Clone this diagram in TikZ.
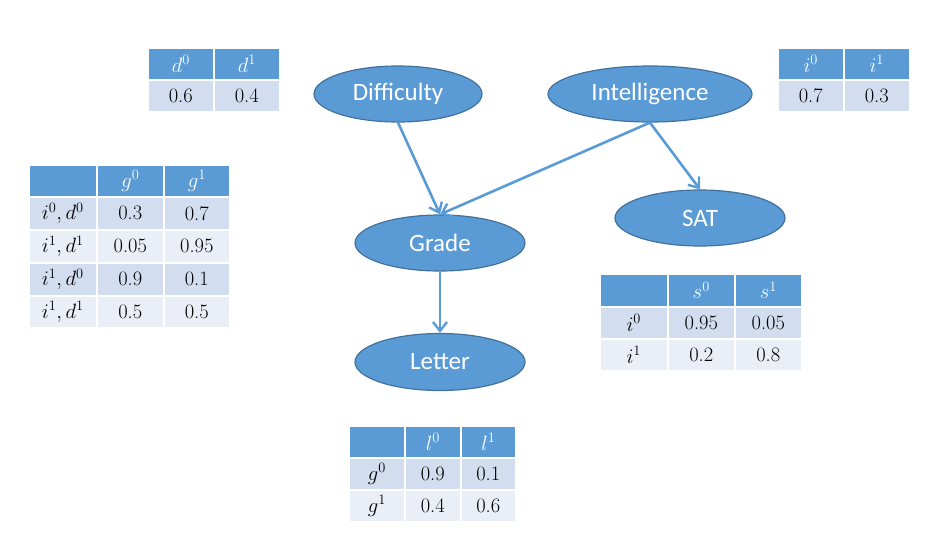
\documentclass[tikz,border=0pt]{standalone}
\usepackage{fontspec}
\newfontfamily\calibri{Carlito}
\usetikzlibrary{shapes.geometric,arrows.meta}
\definecolor{hdblue}{HTML}{5B9BD5}
\definecolor{edgeblue}{HTML}{41719C}
\definecolor{rowdk}{HTML}{D2DEEF}
\definecolor{rowlt}{HTML}{EAEFF7}
\newcommand\tc[7]{\node[cell,#1,minimum width=#5pt,minimum height=#6pt] (#2) at (#3,#4) {#7};}
\tikzset{
  cell/.style={draw=white, line width=1.6pt, inner sep=0pt, anchor=north west, font=\fontsize{20.5}{22}\selectfont},
  hd/.style={fill=hdblue, text=white},
  dk/.style={fill=rowdk, text=black},
  lt/.style={fill=rowlt, text=black},
  var/.style={ellipse, fill=hdblue, draw=edgeblue, line width=1.2pt, text=white, inner sep=0pt, font=\calibri\fontsize{25}{29}\selectfont},
  conn/.style={draw=hdblue, line width=2.6pt, -{Straight Barb[length=9pt,width=14pt,line width=2.4pt]}},
}
\begin{document}
\begin{tikzpicture}[x=1pt,y=-1pt]
\useasboundingbox (0,0) rectangle (932,544);
% ellipses
\node[var, minimum width=168pt, minimum height=56pt] (diff) at (398,94) {Difficulty};
\node[var, minimum width=204pt, minimum height=56pt] (intel) at (650,94) {Intelligence};
\node[var, minimum width=170pt, minimum height=56pt] (grade) at (440,243) {Grade};
\node[var, minimum width=170pt, minimum height=56pt] (sat) at (700,218) {SAT};
\node[var, minimum width=170pt, minimum height=57pt] (letter) at (440,362) {Letter};
% connectors
\draw[conn] (diff.south) -- (grade.north);
\draw[conn] (intel.south) -- (grade.north);
\draw[conn] (intel.south) -- (sat.north);
\draw[conn] (grade.south) -- (letter.north);
% d table
\tc{hd}{d00}{147}{47}{66}{32}{$d^0$}
\tc{hd}{d01}{213}{47}{66}{32}{$d^1$}
\tc{dk}{d10}{147}{79}{66}{32}{0.6}
\tc{dk}{d11}{213}{79}{66}{32}{0.4}
% i table
\tc{hd}{i00}{777}{47}{66}{32}{$i^0$}
\tc{hd}{i01}{843}{47}{66}{32}{$i^1$}
\tc{dk}{i10}{777}{79}{66}{32}{0.7}
\tc{dk}{i11}{843}{79}{66}{32}{0.3}
% g table
\tc{hd}{g00}{28}{164}{68}{32}{}
\tc{hd}{g01}{96}{164}{67}{32}{$g^0$}
\tc{hd}{g02}{163}{164}{66}{32}{$g^1$}
\tc{dk}{g10}{28}{196}{68}{33}{$i^0,d^0$}
\tc{dk}{g11}{96}{196}{67}{33}{0.3}
\tc{dk}{g12}{163}{196}{66}{33}{0.7}
\tc{lt}{g20}{28}{229}{68}{33}{$i^1,d^1$}
\tc{lt}{g21}{96}{229}{67}{33}{0.05}
\tc{lt}{g22}{163}{229}{66}{33}{0.95}
\tc{dk}{g30}{28}{262}{68}{33}{$i^1,d^0$}
\tc{dk}{g31}{96}{262}{67}{33}{0.9}
\tc{dk}{g32}{163}{262}{66}{33}{0.1}
\tc{lt}{g40}{28}{295}{68}{32}{$i^1,d^1$}
\tc{lt}{g41}{96}{295}{67}{32}{0.5}
\tc{lt}{g42}{163}{295}{66}{32}{0.5}
% s table
\tc{hd}{s00}{599}{273}{68}{33}{}
\tc{hd}{s01}{667}{273}{67}{33}{$s^0$}
\tc{hd}{s02}{734}{273}{67}{33}{$s^1$}
\tc{dk}{s10}{599}{306}{68}{32}{$i^0$}
\tc{dk}{s11}{667}{306}{67}{32}{0.95}
\tc{dk}{s12}{734}{306}{67}{32}{0.05}
\tc{lt}{s20}{599}{338}{68}{32}{$i^1$}
\tc{lt}{s21}{667}{338}{67}{32}{0.2}
\tc{lt}{s22}{734}{338}{67}{32}{0.8}
% l table
\tc{hd}{l00}{348}{425}{56}{32}{}
\tc{hd}{l01}{404}{425}{56}{32}{$l^0$}
\tc{hd}{l02}{460}{425}{55}{32}{$l^1$}
\tc{dk}{l10}{348}{457}{56}{32}{$g^0$}
\tc{dk}{l11}{404}{457}{56}{32}{0.9}
\tc{dk}{l12}{460}{457}{55}{32}{0.1}
\tc{lt}{l20}{348}{489}{56}{32}{$g^1$}
\tc{lt}{l21}{404}{489}{56}{32}{0.4}
\tc{lt}{l22}{460}{489}{55}{32}{0.6}
\end{tikzpicture}
\end{document}
